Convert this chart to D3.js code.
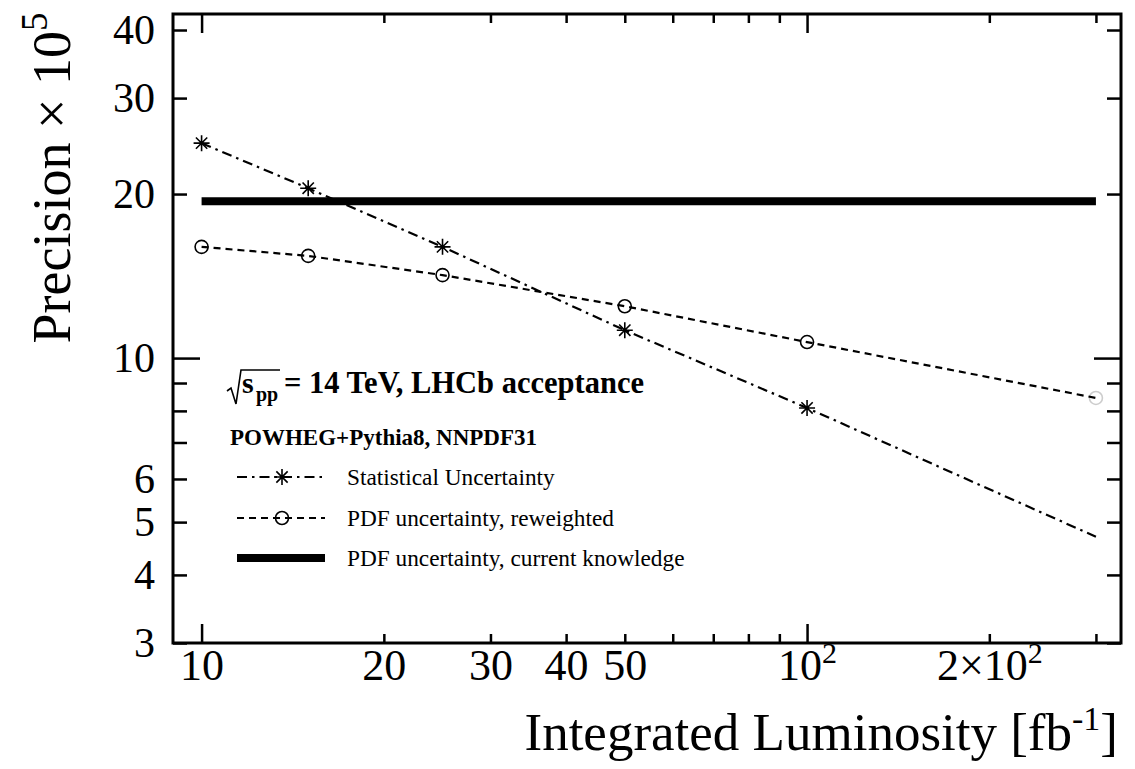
<!DOCTYPE html>
<html>
<head>
<meta charset="utf-8">
<script src="https://cdn.jsdelivr.net/npm/d3@7"></script>
<style>
  html, body { margin: 0; padding: 0; background: #fff; }
  svg { display: block; font-family: "Liberation Serif", "Times New Roman", serif; }
</style>
</head>
<body>
<svg id="chart" width="1135" height="769"></svg>
<script>
// Integrated luminosity points [fb^-1]
const lumi = [10, 15, 25, 50, 100, 300];
// Precision x 10^5
const statUncertainty = [24.8, 20.5, 16.0, 11.25, 8.1, 4.7];
const pdfReweighted   = [16.0, 15.4, 14.2, 12.45, 10.7, 8.45];
const pdfCurrentLumi  = [10, 300];
const pdfCurrent      = [19.4, 19.4];

// Axis ticks and labels ("^" marks a superscript)
const xTicks      = [10, 20, 30, 40, 50, 60, 70, 80, 90, 100, 200, 300];
const xTickLabels = ["10", "20", "30", "40", "50", "", "", "", "", "10^2", "2×10^2", ""];
const yTicks      = [3, 4, 5, 6, 7, 8, 9, 10, 20, 30, 40];
const yTickLabels = ["3", "4", "5", "6", "", "", "", "10", "20", "30", "40"];

const legendLabels = [
  "Statistical Uncertainty",
  "PDF uncertainty, reweighted",
  "PDF uncertainty, current knowledge"
];

const svg = d3.select("#chart");
const plot = { left: 173, right: 1121, top: 14, bottom: 643 };

const x = d3.scaleLog().domain([8.97, 330]).range([plot.left, plot.right]);
const y = d3.scaleLog().domain([3, 42.8]).range([plot.bottom, plot.top]);

const FONT = '"Liberation Serif", "Times New Roman", serif';

// write "a^b" labels as base text + raised tspan
function setSupText(textSel, str, supSize, raise) {
  textSel.text(null);
  const parts = str.split("^");
  textSel.append("tspan").text(parts[0]);
  if (parts.length > 1) {
    textSel.append("tspan").attr("font-size", supSize).attr("dy", -raise).text(parts[1]);
  }
}

const xMajor = new Set([10, 100]);
const yMajor = new Set([10]);

function styleAxis(g, size) {
  g.select(".domain").remove();
  g.attr("font-family", FONT).attr("font-size", size);
  g.selectAll(".tick line").attr("stroke", "#000").attr("stroke-width", 2.5);
  g.selectAll(".tick text").attr("fill", "#000");
}

// bottom axis with labels
const gB = svg.append("g")
  .attr("transform", `translate(0,${plot.bottom})`)
  .call(d3.axisBottom(x).tickValues(xTicks)
    .tickFormat((d, i) => xTickLabels[i])
    .tickSizeInner(-9).tickSizeOuter(0).tickPadding(6));
styleAxis(gB, 44);
gB.selectAll(".tick line").attr("y2", d => xMajor.has(d) ? -19 : -9);
gB.selectAll(".tick text").each(function(d, i) {
  setSupText(d3.select(this), xTickLabels[i], 30, 17);
});

// top axis, ticks only
const gT = svg.append("g")
  .attr("transform", `translate(0,${plot.top})`)
  .call(d3.axisTop(x).tickValues(xTicks).tickFormat("")
    .tickSizeInner(-9).tickSizeOuter(0));
styleAxis(gT, 44);
gT.selectAll(".tick line").attr("y2", d => xMajor.has(d) ? 19 : 9);

// left axis with labels
const gL = svg.append("g")
  .attr("transform", `translate(${plot.left},0)`)
  .call(d3.axisLeft(y).tickValues(yTicks)
    .tickFormat((d, i) => yTickLabels[i])
    .tickSizeInner(-14).tickSizeOuter(0).tickPadding(18));
styleAxis(gL, 42);
gL.selectAll(".tick line").attr("x2", d => yMajor.has(d) ? 27 : 14);

// right axis, ticks only
const gR = svg.append("g")
  .attr("transform", `translate(${plot.right},0)`)
  .call(d3.axisRight(y).tickValues(yTicks).tickFormat("")
    .tickSizeInner(-14).tickSizeOuter(0));
styleAxis(gR, 42);
gR.selectAll(".tick line").attr("x2", d => yMajor.has(d) ? -27 : -14);

// frame
svg.append("rect")
  .attr("x", plot.left).attr("y", plot.top)
  .attr("width", plot.right - plot.left).attr("height", plot.bottom - plot.top)
  .attr("fill", "none").attr("stroke", "#000").attr("stroke-width", 3);

// series
const line = d3.line().x(d => x(d[0])).y(d => y(d[1]));
const statPts = lumi.map((l, i) => [l, statUncertainty[i]]);
const pdfPts  = lumi.map((l, i) => [l, pdfReweighted[i]]);
const curPts  = pdfCurrentLumi.map((l, i) => [l, pdfCurrent[i]]);

const STAT_DASH = "10,5,2.5,5";
const PDF_DASH = "7,5";

svg.append("path").datum(curPts).attr("d", line)
  .attr("fill", "none").attr("stroke", "#000").attr("stroke-width", 8);

svg.append("path").datum(statPts).attr("d", line)
  .attr("fill", "none").attr("stroke", "#000").attr("stroke-width", 2.2)
  .attr("stroke-dasharray", STAT_DASH);

svg.append("path").datum(pdfPts).attr("d", line)
  .attr("fill", "none").attr("stroke", "#000").attr("stroke-width", 2.2)
  .attr("stroke-dasharray", PDF_DASH);

// eight-armed asterisk marker
function starPath(r) {
  const p = d3.path();
  for (let k = 0; k < 4; k++) {
    const a = k * Math.PI / 4;
    p.moveTo(-r * Math.cos(a), -r * Math.sin(a));
    p.lineTo(r * Math.cos(a), r * Math.sin(a));
  }
  return p.toString();
}

svg.append("g").selectAll("path")
  .data(statPts.filter(d => d[0] <= 100))
  .join("path")
  .attr("transform", d => `translate(${x(d[0])},${y(d[1])})`)
  .attr("d", starPath(8))
  .attr("stroke", "#000").attr("stroke-width", 1.6).attr("fill", "none");

svg.append("g").selectAll("circle")
  .data(pdfPts)
  .join("circle")
  .attr("cx", d => x(d[0])).attr("cy", d => y(d[1])).attr("r", 6.5)
  .attr("fill", "none").attr("stroke", "#000").attr("stroke-width", 1.6)
  .attr("stroke-opacity", d => d[0] > 100 ? 0.2 : 1);

// header text
const hdr = svg.append("g").attr("font-family", FONT).attr("font-weight", "bold").attr("fill", "#000");
hdr.append("path")
  .attr("d", "M227,391 L231,388 L236,404 L241,370 L280,370")
  .attr("fill", "none").attr("stroke", "#000").attr("stroke-width", 1.6);
hdr.append("text").attr("x", 242).attr("y", 393).attr("font-size", 30).text("s");
hdr.append("text").attr("x", 256).attr("y", 401).attr("font-size", 20).text("pp");
hdr.append("text").attr("x", 284).attr("y", 393).attr("font-size", 30.5).text("= 14 TeV, LHCb acceptance");
hdr.append("text").attr("x", 230).attr("y", 445).attr("font-size", 23).text("POWHEG+Pythia8, NNPDF31");

// legend
const legRows = [477, 518, 558];
const lx0 = 237, lx1 = 325, lmark = 282, ltext = 347;
const leg = svg.append("g");
leg.append("line").attr("x1", lx0).attr("x2", lx1).attr("y1", legRows[0]).attr("y2", legRows[0])
  .attr("stroke", "#000").attr("stroke-width", 2.2).attr("stroke-dasharray", STAT_DASH);
leg.append("path").attr("transform", `translate(${lmark},${legRows[0]})`).attr("d", starPath(8))
  .attr("stroke", "#000").attr("stroke-width", 1.6);
leg.append("line").attr("x1", lx0).attr("x2", lx1).attr("y1", legRows[1]).attr("y2", legRows[1])
  .attr("stroke", "#000").attr("stroke-width", 2.2).attr("stroke-dasharray", PDF_DASH);
leg.append("circle").attr("cx", lmark).attr("cy", legRows[1]).attr("r", 6.5)
  .attr("fill", "none").attr("stroke", "#000").attr("stroke-width", 1.6);
leg.append("line").attr("x1", lx0).attr("x2", lx1).attr("y1", legRows[2]).attr("y2", legRows[2])
  .attr("stroke", "#000").attr("stroke-width", 8);
leg.selectAll("text").data(legendLabels).join("text")
  .attr("x", ltext).attr("y", (d, i) => legRows[i] + 8)
  .attr("font-family", FONT).attr("font-size", 23.3).attr("fill", "#000")
  .text(d => d);

// axis titles
const yTitle = svg.append("text")
  .attr("transform", "translate(70,178) rotate(-90)")
  .attr("text-anchor", "middle")
  .attr("font-family", FONT).attr("font-size", 54).attr("fill", "#000");
yTitle.append("tspan").text("Precision × 10");
yTitle.append("tspan").attr("font-size", 37).attr("dy", -23).text("5");

const xTitle = svg.append("text")
  .attr("x", 1118).attr("y", 750)
  .attr("text-anchor", "end")
  .attr("font-family", FONT).attr("font-size", 53).attr("fill", "#000");
xTitle.append("tspan").text("Integrated Luminosity [fb");
xTitle.append("tspan").attr("font-size", 34).attr("dy", -20).text("-1");
xTitle.append("tspan").attr("dy", 20).text("]");
</script>
</body>
</html>
